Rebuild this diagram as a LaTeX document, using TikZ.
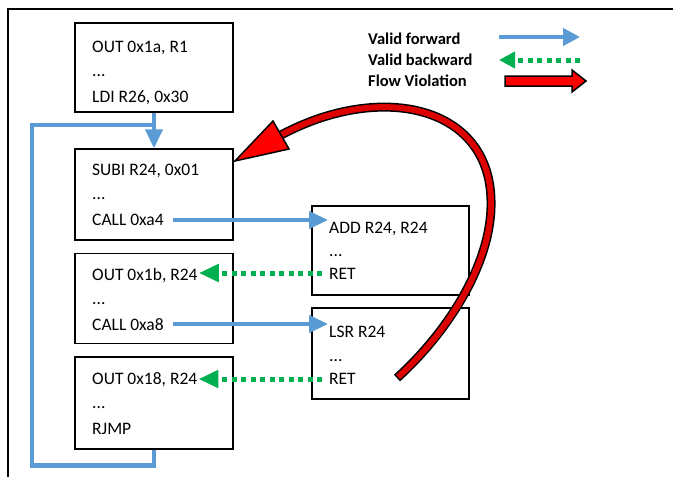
\documentclass[tikz,border=0pt]{standalone}
\usepackage{fontspec}
\setmainfont{Carlito}
\usetikzlibrary{arrows.meta}
\definecolor{fwdblue}{RGB}{91,155,213}
\definecolor{bwdgreen}{RGB}{0,176,80}
\definecolor{violred}{RGB}{220,0,0}
\tikzset{
  codebox/.style={draw=black, line width=1.5pt, minimum width=158pt, inner sep=0pt},
  codetxt/.style={anchor=base west, inner sep=1pt, font=\fontsize{17.5}{20}\selectfont},
  legtxt/.style={anchor=west, inner sep=0pt, font=\fontsize{16.5}{18}\selectfont\bfseries},
  fwdline/.style={draw=fwdblue, line width=4.5pt, line join=miter},
  fwd/.style={fwdline, -{Triangle[length=19pt, width=17pt]}},
  bwd/.style={draw=bwdgreen, line width=5pt, dash pattern=on 5pt off 4.5pt, -{Triangle[length=20pt, width=17pt]}},
}
\begin{document}
\begin{tikzpicture}[x=1pt, y=-1pt]
\useasboundingbox (0,0) rectangle (673,477);
\fill[white] (0,0) rectangle (673,477);
% partial frame
\draw[line width=1.5pt] (8,477) -- (8,9) -- (673,9);

% boxes
\node[codebox, minimum height=89pt] (A) at (154,67.5) {};
\node[codebox, minimum height=91pt] (B) at (154,194.5) {};
\node[codebox, minimum height=90pt] (C) at (154,298.5) {};
\node[codebox, minimum height=92pt] (D) at (154,403) {};
\node[codebox, minimum width=157pt, minimum height=89pt] (E) at (390.5,250.5) {};
\node[codebox, minimum width=157pt, minimum height=91pt] (F) at (390.5,353.5) {};

% texts
\node[codetxt] (a1) at (91,52) {OUT 0x1a, R1};
\node[codetxt] (a2) at (91,76) {...};
\node[codetxt] (a3) at (91,102) {LDI R26, 0x30};
\node[codetxt] (b1) at (91,175) {SUBI R24, 0x01};
\node[codetxt] (b2) at (91,199) {...};
\node[codetxt] (b3) at (91,225) {CALL 0xa4};
\node[codetxt] (c1) at (91,280) {OUT 0x1b, R24};
\node[codetxt] (c2) at (91,304) {...};
\node[codetxt] (c3) at (91,330) {CALL 0xa8};
\node[codetxt] (d1) at (91,384) {OUT 0x18, R24};
\node[codetxt] (d2) at (91,408) {...};
\node[codetxt] (d3) at (91,434) {RJMP};
\node[codetxt] (e1) at (328,233) {ADD R24, R24};
\node[codetxt] (e2) at (328,256) {...};
\node[codetxt] (e3) at (328,279) {RET};
\node[codetxt] (f1) at (328,337) {LSR R24};
\node[codetxt] (f2) at (328,361) {...};
\node[codetxt] (f3) at (328,384) {RET};

% forward edges
\draw[fwd] (A.south) -- (B.north);
\draw[fwdline] (D.south) -- ++(0,15.5) -| (32,125) -- (156,125);
\draw[fwd] ([xshift=8pt]b3.east |- 0,220) -- (e1.west |- 0,220);
\draw[fwd] ([xshift=8pt]c3.east |- 0,324) -- (f1.west |- 0,324);

% backward edges
\draw[bwd] ([xshift=-6pt]e3.west |- 0,273) -- (c1.east |- 0,273);
\draw[bwd] ([xshift=-6pt]f3.west |- 0,379) -- (d1.east |- 0,379);

% flow violation
\coordinate (vs) at (397,378);
\coordinate (vm) at (491,200);
\coordinate (ve) at (281,135);
\draw[line width=9pt, black] (vs) .. controls (450,330) and (493,260) .. (vm) .. controls (489,105) and (380,82) .. (ve);
\draw[line width=6pt, violred, shorten <=1.5pt] (vs) .. controls (450,330) and (493,260) .. (vm) .. controls (489,105) and (380,82) .. (ve);
\filldraw[fill=red, draw=black, line width=1.5pt, line join=miter] (235,161) -- (273,121) -- (289,149) -- cycle;

% legend
\node[legtxt] (l1) at (368,39) {Valid forward};
\node[legtxt] (l2) at (368,60) {Valid backward};
\node[legtxt] (l3) at (368,81) {Flow Violation};
\coordinate (lf1) at (499,37);
\coordinate (lf2) at (580,37);
\draw[draw=fwdblue, line width=4.5pt, -{Triangle[length=17pt, width=17pt]}] (lf1) -- (lf2);
\coordinate (lb1) at (580,60);
\coordinate (lb2) at (499,60);
\draw[draw=bwdgreen, line width=5pt, dash pattern=on 5pt off 4.5pt, -{Triangle[length=16pt, width=16pt]}] (lb1) -- (lb2);
\filldraw[fill=red, draw=black, line width=1.5pt, line join=miter]
  (505,76) -- (572,76) -- (572,70) -- (586,81) -- (572,92) -- (572,86) -- (505,86) -- cycle;
\end{tikzpicture}
\end{document}
